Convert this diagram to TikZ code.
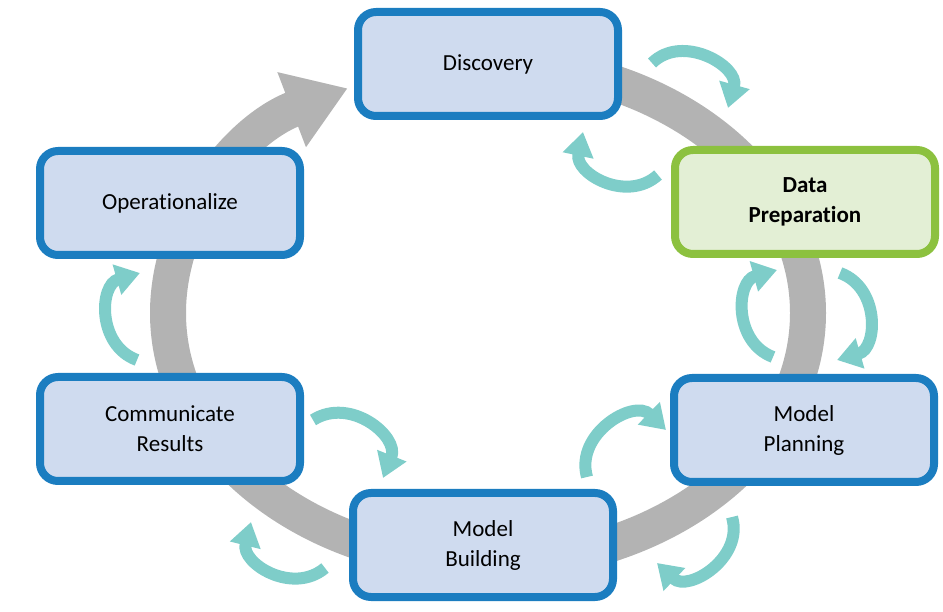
\documentclass[tikz,border=0pt]{standalone}
\usepackage{fontspec}
\setmainfont{Carlito}[Ligatures={NoCommon,NoRequired,NoContextual}]
\usetikzlibrary{arrows.meta}
\definecolor{stageblue}{HTML}{1B7DC0}
\definecolor{stagefill}{HTML}{CFDBEF}
\definecolor{prepgreen}{HTML}{8CC13F}
\definecolor{prepfill}{HTML}{E3EFD5}
\definecolor{cycteal}{HTML}{7ECDC9}
\definecolor{ringgray}{HTML}{B3B3B3}

\begin{document}
\begin{tikzpicture}[x=1pt, y=1pt,
  stage/.style={draw=stageblue, fill=stagefill, line width=8pt, rounded corners=18pt,
    minimum width=260pt, minimum height=104pt, align=center, font=\fontsize{23}{30}\selectfont},
  prepstage/.style={stage, draw=prepgreen, fill=prepfill, font=\fontsize{23}{30}\selectfont\bfseries},
  ring/.style={draw=ringgray, line width=36pt, -{Triangle[width=76pt,length=60pt]}},
  cycarrow/.style={draw=cycteal, line width=12pt, -{Triangle[width=30pt,length=24pt]}},
  cycbend/.style={bend left=#1, looseness=1.25}]
\useasboundingbox (0,0) rectangle (943,611);

\draw[ring] (488,298) ++(90:320 and 250) arc[start angle=90, end angle=-244, x radius=320, y radius=250];

\node[stage] (disc) at (488,547) {Discovery};
\node[prepstage] (prep) at (805,409) {Data\\Preparation};
\node[stage] (plan) at (804,181) {Model\\Planning};
\node[stage] (build) at (483,66) {Model\\Building};
\node[stage] (comm) at (170,182) {Communicate\\Results};
\node[stage] (oper) at (170,408) {Operationalize};

\coordinate (discprep-a) at (652,548);  \coordinate (discprep-b) at (728,503);
\coordinate (prepdisc-a) at (658,436);  \coordinate (prepdisc-b) at (583,479);
\coordinate (prepplan-a) at (840,338);  \coordinate (prepplan-b) at (837,251);
\coordinate (planprep-a) at (773,254);  \coordinate (planprep-b) at (777,341);
\coordinate (buildplan-a) at (587,134); \coordinate (buildplan-b) at (666,181);
\coordinate (planbuild-a) at (732,94);  \coordinate (planbuild-b) at (657,48);
\coordinate (commbuild-a) at (313,191); \coordinate (commbuild-b) at (383,133);
\coordinate (buildcomm-a) at (325,43);  \coordinate (buildcomm-b) at (251,89);
\coordinate (commoper-a) at (137,251);  \coordinate (commoper-b) at (140,338);

\draw[cycarrow] (discprep-a) to[cycbend=75] (discprep-b);
\draw[cycarrow] (prepdisc-a) to[cycbend=72] (prepdisc-b);
\draw[cycarrow] (prepplan-a) to[cycbend=72] (prepplan-b);
\draw[cycarrow] (planprep-a) to[cycbend=72] (planprep-b);
\draw[cycarrow] (buildplan-a) to[cycbend=75] (buildplan-b);
\draw[cycarrow] (planbuild-a) to[cycbend=75] (planbuild-b);
\draw[cycarrow] (commbuild-a) to[cycbend=72] (commbuild-b);
\draw[cycarrow] (buildcomm-a) to[cycbend=72] (buildcomm-b);
\draw[cycarrow] (commoper-a) to[cycbend=72] (commoper-b);
\end{tikzpicture}
\end{document}
